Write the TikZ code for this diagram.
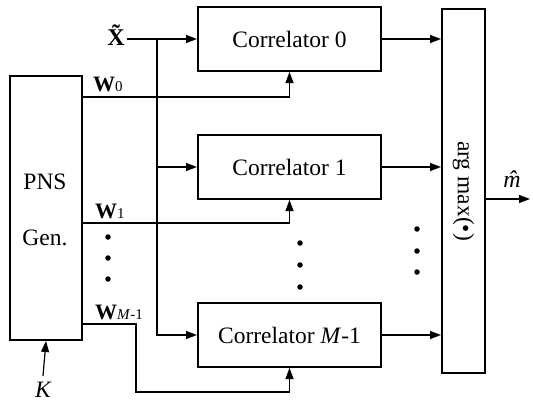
\documentclass[tikz,border=0pt]{standalone}
\usepackage{fontspec}
\setmainfont{Liberation Serif}
\usetikzlibrary{arrows.meta}
\begin{document}
\begin{tikzpicture}[x=1pt,y=-1pt,
  box/.style={draw,line width=2pt,inner sep=0pt},
  lbl/.style={inner sep=0pt,font=\fontsize{23.5}{27}\selectfont},
  wl/.style={inner sep=0pt,anchor=base west,font=\fontsize{22}{24}\selectfont},
  conn/.style={line width=1.2pt},
  arr/.style={conn,-{Triangle[length=11pt,width=8pt]}},
  dot/.style={circle,fill,inner sep=0pt,minimum size=5.5pt}]
\useasboundingbox (0,0) rectangle (533,402);
% boxes
\node[box,minimum width=72pt,minimum height=264pt] (pns) at (46,208) {};
\node[lbl] (pnstxt) at (45,181.5) {PNS};
\node[lbl] (gentxt) at (45,237.5) {Gen.};
\node[box,lbl,minimum width=183pt,minimum height=64pt] (c0) at (289.5,39) {Correlator 0};
\node[box,lbl,minimum width=183pt,minimum height=64pt] (c1) at (289.5,167) {Correlator 1};
\node[box,lbl,minimum width=183pt,minimum height=64pt] (cm) at (289.5,335) {Correlator \textit{M}-1};
\node[box,lbl,minimum width=43pt,minimum height=364pt] (am) at (463.5,191) {};
\node[lbl,rotate=-90] (amtxt) at (am.center) {arg max(\textbullet)};
% input
\node[lbl,inner sep=2pt,font=\fontsize{24}{26}\selectfont\bfseries] (xt) at (116,35) {\accent"02DC X};
\coordinate (j0) at (157,39);
\coordinate (j1) at (157,167);
\draw[arr] (xt.east |- j0) -- (c0.west);
\draw[arr] (j0) |- (cm.west);
\draw[arr] (j1) -- (c1.west);
% W lines
\coordinate (w0) at (82,97);
\coordinate (w1) at (82,223);
\coordinate (wm) at (82,324);
\coordinate (wmk) at (136,324);
\coordinate (wmb) at (136,392);
\draw[arr] (w0) -| (c0.south);
\draw[arr] (w1) -| (c1.south);
\draw[arr] (wm) -- (wmk) -- (wmb) -| (cm.south);
\node[wl] (lw0) at (93,91) {\textbf{W}{\fontsize{15}{15}\selectfont 0}};
\node[wl] (lw1) at (95,218) {\textbf{W}{\fontsize{15}{15}\selectfont 1}};
\node[wl] (lwm) at (95,319) {\textbf{W}{\fontsize{15}{15}\selectfont\textit{M}-1}};
% dots
\node[dot] (d1) at (108,237) {};
\node[dot] (d2) at (108,258) {};
\node[dot] (d3) at (108,279) {};
\node[dot] (d4) at (300,243) {};
\node[dot] (d5) at (300,265) {};
\node[dot] (d6) at (300,287) {};
\node[dot] (d7) at (417,229) {};
\node[dot] (d8) at (417,251) {};
\node[dot] (d9) at (417,272) {};
% outputs
\draw[arr] (c0.east) -- (c0.east -| am.west);
\draw[arr] (c1.east) -- (c1.east -| am.west);
\draw[arr] (cm.east) -- (cm.east -| am.west);
\coordinate (mo) at (530,199);
\draw[arr] (am.east |- mo) -- (mo);
\node[lbl,font=\fontsize{24}{26}\selectfont\itshape] (mh) at (512,179) {\accent"02C6 m};
% K
\node[lbl,font=\fontsize{23.5}{27}\selectfont\itshape] (k) at (43,390) {K};
\coordinate (ks) at (43,376);
\draw[arr] (ks) -- (pns.south);
\end{tikzpicture}
\end{document}
